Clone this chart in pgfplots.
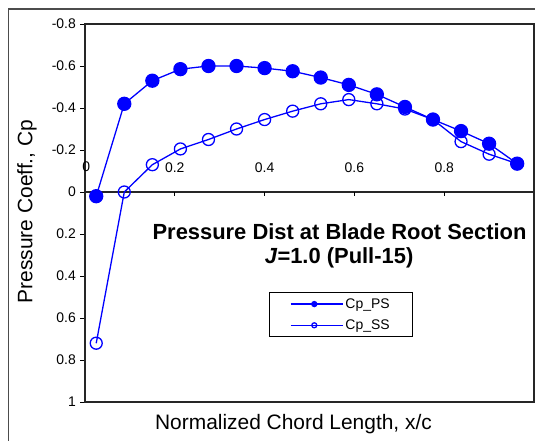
\documentclass[border=0pt]{standalone}
\usepackage{fontspec}
\setmainfont{Liberation Sans}
\usepackage{pgfplots}
\usepackage{pgfplotstable}
\pgfplotsset{compat=1.18}
\definecolor{xlblue}{RGB}{0,0,255}
\pgfplotstableread{
x ps ss
0.025 0.02 0.72
0.0875 -0.42 0.00
0.15 -0.53 -0.13
0.2125 -0.585 -0.205
0.275 -0.60 -0.25
0.3375 -0.60 -0.30
0.40 -0.59 -0.345
0.4625 -0.575 -0.385
0.525 -0.545 -0.42
0.5875 -0.51 -0.44
0.65 -0.465 -0.42
0.7125 -0.405 -0.395
0.775 -0.345 -0.345
0.8375 -0.29 -0.24
0.90 -0.23 -0.18
0.9625 -0.135 -0.135
}\cpdata
\begin{document}
\begin{tikzpicture}
\useasboundingbox (0,0) rectangle (535bp,441bp);
\draw[line width=1.3bp, black!70] (8.3bp,-2bp) -- (8.3bp,432bp) -- (540bp,432bp);
\begin{axis}[
  scale only axis, width=449bp, height=378bp,
  at={(85bp,39bp)}, anchor=south west,
  xmin=0, xmax=1, ymin=-0.8, ymax=1, y dir=reverse,
  clip=false,
  xtick=\empty,
  ytick={-0.8,-0.6,-0.4,-0.2,0,0.2,0.4,0.6,0.8,1},
  yticklabels={-0.8,-0.6,-0.4,-0.2,0,0.2,0.4,0.6,0.8,1},
  tick align=outside, major tick length=5bp,
  tick style={black, line width=1bp},
  axis line style={black!85, line width=1.3bp},
  yticklabel style={font=\fontsize{14}{16}\selectfont, inner xsep=4bp},
  legend style={at={(axis cs:0.409,0.476)}, anchor=north west, draw=black, line width=1bp,
    font=\fontsize{14}{16}\selectfont, inner xsep=21bp, inner ysep=4bp, row sep=6bp},
  legend cell align=left,
  legend image code/.code={\path (0bp,0bp) -- (52bp,0bp);\draw[#1, line width=1.3bp, mark size=2.5bp, mark repeat=2, mark phase=2] plot coordinates {(0bp,0bp) (23.5bp,0bp) (47bp,0bp)};},
]
\draw[black!85, line width=1.3bp] (axis cs:0,0) -- (axis cs:1,0);
\draw[black, line width=1bp] (axis cs:0.2,0) -- ++(0bp,-4bp);
\draw[black, line width=1bp] (axis cs:0.4,0) -- ++(0bp,-4bp);
\draw[black, line width=1bp] (axis cs:0.6,0) -- ++(0bp,-4bp);
\draw[black, line width=1bp] (axis cs:0.8,0) -- ++(0bp,-4bp);
\addplot[xlblue, line width=1.3bp, mark=*, mark size=6.5bp, mark options={fill=xlblue, solid}] table[x=x,y=ps]{\cpdata};
\addlegendentry{Cp\_PS}
\addplot[xlblue, line width=1.3bp, mark=o, mark size=6bp, mark options={solid}] table[x=x,y=ss]{\cpdata};
\addlegendentry{Cp\_SS}
\node[font=\fontsize{14}{16}\selectfont] at (axis cs:0.003,-0.12) {0};
\node[font=\fontsize{14}{16}\selectfont] at (axis cs:0.2,-0.116) {0.2};
\node[font=\fontsize{14}{16}\selectfont] at (axis cs:0.4,-0.116) {0.4};
\node[font=\fontsize{14}{16}\selectfont] at (axis cs:0.6,-0.116) {0.6};
\node[font=\fontsize{14}{16}\selectfont] at (axis cs:0.8,-0.116) {0.8};
\node[font=\bfseries\fontsize{22}{25}\selectfont] at (axis cs:0.567,0.19) {Pressure Dist at Blade Root Section};
\node[font=\bfseries\fontsize{22}{25}\selectfont] at (axis cs:0.566,0.314) {\textit{J}=1.0 (Pull-15)};
\end{axis}
\node[rotate=90, font=\fontsize{21}{24}\selectfont] at (27bp,229.5bp) {Pressure Coeff., Cp};
\node[font=\fontsize{21}{24}\selectfont] at (293.5bp,17bp) {Normalized Chord Length, x/c};
\end{tikzpicture}
\end{document}
